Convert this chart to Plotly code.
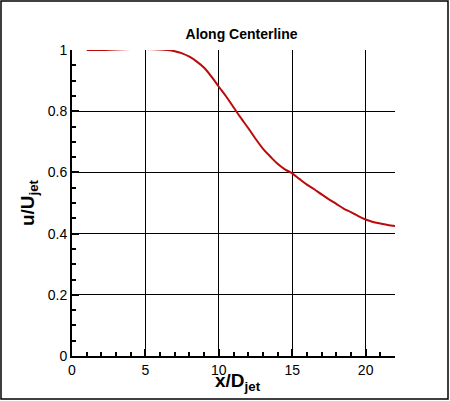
import plotly.graph_objects as go

# centerline velocity decay
x_over_d = [1, 2, 3, 4, 5, 6, 6.5, 7, 7.5, 8, 8.5, 9, 9.5, 10, 10.5, 11, 11.5,
            12, 12.5, 13, 13.5, 14, 14.5, 15, 15.5, 16, 16.5, 17, 17.5, 18,
            18.5, 19, 19.5, 20, 20.5, 21, 21.5, 22]
u_over_ujet = [1.0, 1.0, 1.002, 1.003, 1.003, 1.002, 1.0, 0.996, 0.989, 0.978,
               0.962, 0.942, 0.913, 0.88, 0.848, 0.813, 0.778, 0.745, 0.71,
               0.678, 0.652, 0.628, 0.61, 0.597, 0.578, 0.56, 0.545, 0.528,
               0.512, 0.497, 0.482, 0.47, 0.457, 0.446, 0.438, 0.433, 0.428,
               0.425]

x_ticks = [0, 5, 10, 15, 20]
y_ticks = [0, 0.2, 0.4, 0.6, 0.8, 1]

FONT = "Liberation Sans, Arial, Helvetica, sans-serif"

fig = go.Figure()
fig.add_trace(go.Scatter(x=x_over_d, y=u_over_ujet, mode="lines",
                         line=dict(color="#bb0a0a", width=2),
                         line_shape="spline", showlegend=False))

axis_common = dict(
    showline=True, linecolor="black", linewidth=2, mirror=False,
    showgrid=True, gridcolor="black", gridwidth=1,
    ticks="inside", tickcolor="black", ticklen=7, tickwidth=2,
    tickfont=dict(family=FONT, size=14, color="black"),
    zeroline=False, automargin=False,
)

fig.update_xaxes(
    range=[0, 22], tickvals=x_ticks,
    minor=dict(dtick=1, ticks="inside", ticklen=4, tickcolor="black", showgrid=False),
    **axis_common,
)
fig.update_yaxes(
    range=[0, 1], tickvals=y_ticks,
    minor=dict(dtick=0.05, ticks="inside", ticklen=4, tickcolor="black", showgrid=False),
    title=dict(text="<b>u/U<sub>jet</sub></b>", font=dict(family=FONT, size=19, color="black"),
               standoff=8),
    **axis_common,
)

fig.update_layout(
    width=450, height=401,
    margin=dict(l=72, r=55, t=50, b=45),
    paper_bgcolor="white", plot_bgcolor="white",
    title=dict(text="<b>Along Centerline</b>", x=0.525, xref="paper",
               y=1 - 34 / 401, yanchor="middle",
               font=dict(family=FONT, size=14, color="black")),
)

# x title placed by hand so it sits close under the tick labels
fig.add_annotation(text="<b>x/D<sub>jet</sub></b>", xref="paper", yref="paper",
                   x=0.515, y=(356 - 368) / 306, xanchor="center", yanchor="top",
                   showarrow=False, font=dict(family=FONT, size=19, color="black"))

# frame around the whole picture
fig.add_shape(type="rect", xref="paper", yref="paper",
              x0=(1 - 72) / 323, x1=(448 - 72) / 323,
              y0=(356 - 399) / 306, y1=(356 - 1) / 306,
              line=dict(color="black", width=1.5))

fig.write_html("out.html", config={"displayModeBar": False},
               post_script="document.body.style.margin='0';")
